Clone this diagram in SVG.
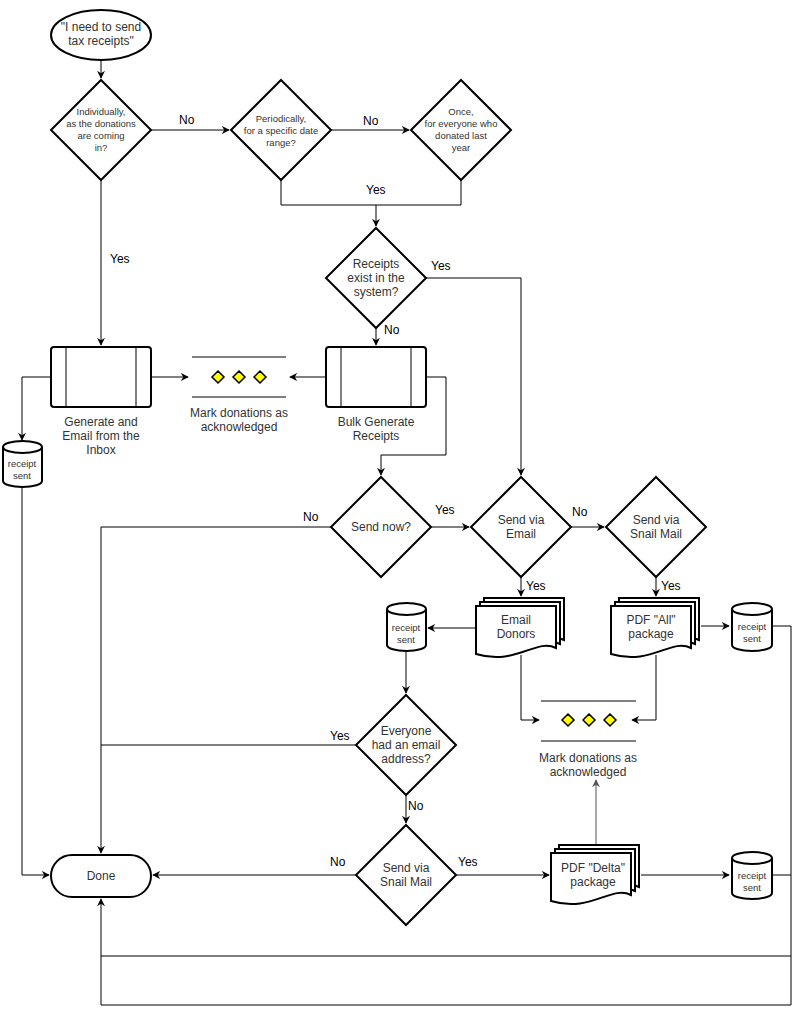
<svg xmlns="http://www.w3.org/2000/svg" width="800" height="1015" viewBox="0 0 800 1015">
<defs>
<marker id="a" viewBox="0 0 10 10" refX="9" refY="5" markerWidth="8" markerHeight="8" orient="auto"><path d="M0,0 L10,5 L0,10 L3,5 Z" fill="#000"/></marker>
<marker id="ag" viewBox="0 0 10 10" refX="9" refY="5" markerWidth="8" markerHeight="8" orient="auto"><path d="M0,0 L10,5 L0,10 L3,5 Z" fill="#555"/></marker>
<g id="doc"><path d="M0,0 H80 V42 C60,32 40,60 0,48 Z"/></g>
</defs>
<style>
.s{fill:#fff;stroke:#000;stroke-width:2}
.c{fill:none;stroke:#000;stroke-width:1}
.t{font-family:"Liberation Sans",Arial,sans-serif;font-size:12px;fill:#333;text-anchor:middle}
.sm{font-size:9.5px}
.l{font-family:"Liberation Sans",Arial,sans-serif;font-size:12px;fill:#000}
.y{fill:#ff0;stroke:#000;stroke-width:1.5}
</style>
<rect width="800" height="1015" fill="#fff"/>
<g id="connectors">
<path class="c" d="M101,60 V78" marker-end="url(#a)"/>
<path class="c" d="M151,130 H229" marker-end="url(#a)"/>
<path class="c" d="M331,130 H409" marker-end="url(#a)"/>
<path class="c" d="M281,180 V205 H461 V180"/>
<path class="c" d="M376,205 V226" marker-end="url(#a)"/>
<path class="c" d="M426,278 H521 V475" marker-end="url(#a)"/>
<path class="c" d="M376,328 V345" marker-end="url(#a)"/>
<path class="c" d="M101,180 V345" marker-end="url(#a)"/>
<path class="c" d="M151,377 H188" marker-end="url(#a)"/>
<path class="c" d="M326,377 H290" marker-end="url(#a)"/>
<path class="c" d="M51,377 H22 V440" marker-end="url(#a)"/>
<path class="c" d="M22,486 V875 H49" marker-end="url(#a)"/>
<path class="c" d="M426,377 H446 V455 H381 V475" marker-end="url(#a)"/>
<path class="c" d="M431,527 H469" marker-end="url(#a)"/>
<path class="c" d="M331,527 H101 V853" marker-end="url(#a)"/>
<path class="c" d="M571,527 H604" marker-end="url(#a)"/>
<path class="c" d="M521,577 V596" marker-end="url(#a)"/>
<path class="c" d="M656,577 V596" marker-end="url(#a)"/>
<path class="c" d="M476,628 H428" marker-end="url(#a)"/>
<path class="c" d="M406,650 V693" marker-end="url(#a)"/>
<path class="c" d="M356,745 H101"/>
<path class="c" d="M406,795 V823" marker-end="url(#a)"/>
<path class="c" d="M356,875 H153" marker-end="url(#a)"/>
<path class="c" d="M456,875 H549" marker-end="url(#a)"/>
<path d="M596,845 V780" fill="none" stroke="#555" stroke-width="1" marker-end="url(#ag)"/>
<path class="c" d="M641,875 H729" marker-end="url(#a)"/>
<path class="c" d="M701,626 H729" marker-end="url(#a)"/>
<path class="c" d="M772,626 H791 V1005 H101 V899" marker-end="url(#a)"/>
<path class="c" d="M772,875 H791"/>
<path class="c" d="M101,956 H791"/>
<path class="c" d="M521,655 V720 H539" marker-end="url(#a)"/>
<path class="c" d="M656,655 V720 H632" marker-end="url(#a)"/>
</g>
<g class="l">
<text x="179" y="124">No</text>
<text x="363" y="125">No</text>
<text x="366" y="194">Yes</text>
<text x="110" y="263">Yes</text>
<text x="431" y="270">Yes</text>
<text x="384" y="334">No</text>
<text x="303" y="521">No</text>
<text x="435" y="514">Yes</text>
<text x="572" y="516">No</text>
<text x="526" y="590">Yes</text>
<text x="661" y="590">Yes</text>
<text x="330" y="740">Yes</text>
<text x="408" y="810">No</text>
<text x="330" y="866">No</text>
<text x="458" y="866">Yes</text>
</g>
<g id="start"><ellipse class="s" cx="101" cy="35" rx="50" ry="25"/><text class="t" x="101" y="31">"I need to send</text><text class="t" x="101" y="45">tax receipts"</text></g>
<g id="d1"><path class="s" d="M101,80 L151,130 L101,180 L51,130 Z"/><text class="t sm" x="101" y="115">Individually,</text><text class="t sm" x="101" y="127">as the donations</text><text class="t sm" x="101" y="139">are coming</text><text class="t sm" x="101" y="151">in?</text></g>
<g id="d2"><path class="s" d="M281,80 L331,130 L281,180 L231,130 Z"/><text class="t sm" x="281" y="122">Periodically,</text><text class="t sm" x="281" y="134">for a specific date</text><text class="t sm" x="281" y="146">range?</text></g>
<g id="d3"><path class="s" d="M461,80 L511,130 L461,180 L411,130 Z"/><text class="t sm" x="461" y="115">Once,</text><text class="t sm" x="461" y="127">for everyone who</text><text class="t sm" x="461" y="139">donated last</text><text class="t sm" x="461" y="151">year</text></g>
<g id="d4"><path class="s" d="M376,228 L426,278 L376,328 L326,278 Z"/><text class="t" x="376" y="268">Receipts</text><text class="t" x="376" y="282">exist in the</text><text class="t" x="376" y="296">system?</text></g>
<g id="p1"><rect class="s" x="51" y="347" width="100" height="60" rx="3"/><path class="c" stroke-width="2" d="M66,347 V407 M136,347 V407"/><text class="t" x="101" y="426">Generate and</text><text class="t" x="101" y="440">Email from the</text><text class="t" x="101" y="454">Inbox</text></g>
<g id="p2"><rect class="s" x="326" y="347" width="100" height="60" rx="3"/><path class="c" stroke-width="2" d="M341,347 V407 M411,347 V407"/><text class="t" x="376" y="426">Bulk Generate</text><text class="t" x="376" y="440">Receipts</text></g>
<g id="m1"><path class="c" stroke-width="2" d="M192,357 H286 M192,397 H286"/><path class="y" d="M218,371 L224,377 L218,383 L212,377 Z M239,371 L245,377 L239,383 L233,377 Z M260,371 L266,377 L260,383 L254,377 Z"/><text class="t" x="239" y="417">Mark donations as</text><text class="t" x="239" y="431">acknowledged</text></g>
<g id="cy1"><path class="s" d="M3,447 A19.5,6 0 0 1 42,447 V481 A19.5,6 0 0 1 3,481 Z M3,447 A19.5,6 0 0 0 42,447"/><text class="t sm" x="22" y="467">receipt</text><text class="t sm" x="22" y="479">sent</text></g>
<g id="d5"><path class="s" d="M381,477 L431,527 L381,577 L331,527 Z"/><text class="t" x="381" y="531">Send now?</text></g>
<g id="d6"><path class="s" d="M521,477 L571,527 L521,577 L471,527 Z"/><text class="t" x="521" y="524">Send via</text><text class="t" x="521" y="538">Email</text></g>
<g id="d7"><path class="s" d="M656,477 L706,527 L656,577 L606,527 Z"/><text class="t" x="656" y="524">Send via</text><text class="t" x="656" y="538">Snail Mail</text></g>
<g id="doc1" class="s"><use href="#doc" x="484" y="598"/><use href="#doc" x="480" y="602"/><use href="#doc" x="476" y="606"/><text class="t" x="516" y="624" stroke="none">Email</text><text class="t" x="516" y="638" stroke="none">Donors</text></g>
<g id="doc2" class="s"><use href="#doc" x="619" y="598"/><use href="#doc" x="615" y="602"/><use href="#doc" x="611" y="606"/><text class="t" x="651" y="624" stroke="none">PDF "All"</text><text class="t" x="651" y="638" stroke="none">package</text></g>
<g id="cy2"><path class="s" d="M387,609 A19.5,6 0 0 1 426,609 V645 A19.5,6 0 0 1 387,645 Z M387,609 A19.5,6 0 0 0 426,609"/><text class="t sm" x="406" y="631">receipt</text><text class="t sm" x="406" y="643">sent</text></g>
<g id="cy3"><path class="s" d="M732,609 A20,6 0 0 1 772,609 V645 A20,6 0 0 1 732,645 Z M732,609 A20,6 0 0 0 772,609"/><text class="t sm" x="752" y="630">receipt</text><text class="t sm" x="752" y="642">sent</text></g>
<g id="m2"><path class="c" stroke-width="2" d="M541,701 H636 M541,741 H636"/><path class="y" d="M568,714 L574,720 L568,726 L562,720 Z M589,714 L595,720 L589,726 L583,720 Z M610,714 L616,720 L610,726 L604,720 Z"/><text class="t" x="588" y="762">Mark donations as</text><text class="t" x="588" y="776">acknowledged</text></g>
<g id="d8"><path class="s" d="M406,695 L456,745 L406,795 L356,745 Z"/><text class="t" x="406" y="735">Everyone</text><text class="t" x="406" y="749">had an email</text><text class="t" x="406" y="763">address?</text></g>
<g id="d9"><path class="s" d="M406,825 L456,875 L406,925 L356,875 Z"/><text class="t" x="406" y="872">Send via</text><text class="t" x="406" y="886">Snail Mail</text></g>
<g id="done"><rect class="s" x="51" y="855" width="100" height="42" rx="21"/><text class="t" x="101" y="880">Done</text></g>
<g id="doc3" class="s"><use href="#doc" x="559" y="845"/><use href="#doc" x="555" y="849"/><use href="#doc" x="551" y="853"/><text class="t" x="593" y="872" stroke="none">PDF "Delta"</text><text class="t" x="593" y="886" stroke="none">package</text></g>
<g id="cy4"><path class="s" d="M732,858 A20,6 0 0 1 772,858 V893 A20,6 0 0 1 732,893 Z M732,858 A20,6 0 0 0 772,858"/><text class="t sm" x="752" y="879">receipt</text><text class="t sm" x="752" y="891">sent</text></g>
</svg>
